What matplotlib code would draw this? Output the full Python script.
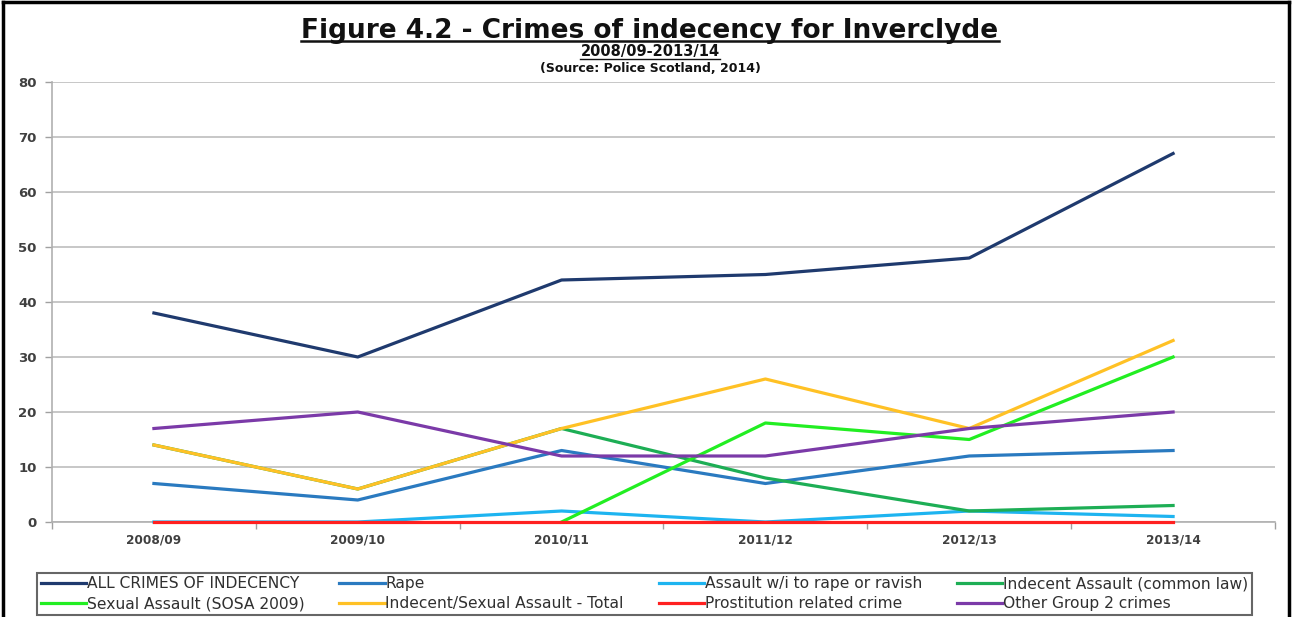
import matplotlib
matplotlib.use('Agg')
import matplotlib.pyplot as plt
from matplotlib.lines import Line2D

years = ['2008/09', '2009/10', '2010/11', '2011/12', '2012/13', '2013/14']

all_crimes = [38, 30, 44, 45, 48, 67]
rape = [7, 4, 13, 7, 12, 13]
assault_rape = [0, 0, 2, 0, 2, 1]
indecent_common = [14, 6, 17, 8, 2, 3]
sexual_sosa = [None, None, 0, 18, 15, 30]
indecent_total = [14, 6, 17, 26, 17, 33]
prostitution = [0, 0, 0, 0, 0, 0]
other_group2 = [17, 20, 12, 12, 17, 20]

series = [
    ('ALL CRIMES OF INDECENCY', all_crimes, '#1F3A6E'),
    ('Rape', rape, '#2A7AC0'),
    ('Assault w/i to rape or ravish', assault_rape, '#1EB4F0'),
    ('Indecent Assault (common law)', indecent_common, '#1DAE55'),
    ('Sexual Assault (SOSA 2009)', sexual_sosa, '#22EE22'),
    ('Indecent/Sexual Assault - Total', indecent_total, '#FFC125'),
    ('Prostitution related crime', prostitution, '#FF2020'),
    ('Other Group 2 crimes', other_group2, '#7B3AA8'),
]

plt.rcParams['font.family'] = ['Liberation Sans', 'DejaVu Sans']

W, H = 1293, 617
fig = plt.figure(figsize=(W / 100, H / 100), dpi=100)
ax = fig.add_axes([52 / W, 1 - 522 / H, (1275 - 52) / W, (522 - 82) / H])

x = list(range(len(years)))
handles = []
for name, vals, col in series:
    xs = [i for i, v in zip(x, vals) if v is not None]
    ys = [v for v in vals if v is not None]
    h, = ax.plot(xs, ys, color=col, lw=2.3, label=name, clip_on=False, zorder=3)
    handles.append(h)

ax.set_xlim(-0.5, len(years) - 0.5)
ax.set_ylim(0, 80)
ax.set_yticks(range(0, 81, 10))
ax.set_xticks(x)
ax.set_xticklabels(years)
ax.set_xticks([i - 0.5 for i in range(len(years) + 1)], minor=True)
ax.tick_params(axis='x', which='major', length=0, pad=8)
ax.tick_params(axis='x', which='minor', length=5, color='#A0A0A0', width=1)
ax.tick_params(axis='y', length=5, color='#A0A0A0', width=1, pad=6)
for lab in ax.get_xticklabels() + ax.get_yticklabels():
    lab.set_fontsize(9.5)
    lab.set_fontweight('bold')
    lab.set_color('#404040')
    lab.set_family(['DejaVu Sans'])
for lab in ax.get_xticklabels():
    lab.set_fontsize(8.7)

ax.yaxis.grid(True, color='#BDBDBD', lw=1.2)
ax.set_axisbelow(True)
for side in ['top', 'right']:
    ax.spines[side].set_visible(False)
for side in ['left', 'bottom']:
    ax.spines[side].set_color('#B0B0B0')
    ax.spines[side].set_linewidth(1.2)

# legend in Excel row order
order = [0, 4, 1, 5, 2, 6, 3, 7]
leg = fig.legend([handles[i] for i in order], [series[i][0] for i in order],
                 loc='lower left', bbox_to_anchor=(37 / W, 2 / H, 1215 / W, 46 / H),
                 mode='expand', ncol=4, prop={'family': 'DejaVu Sans', 'size': 11.2},
                 frameon=True, fancybox=False,
                 edgecolor='#404040', handlelength=2.9, handletextpad=0.05,
                 labelspacing=0.3, borderpad=0.25, borderaxespad=0)
leg.get_frame().set_linewidth(1.5)
for t in leg.get_texts():
    t.set_color('#303030')

# titles, underlined like the original
title_items = [
    ('Figure 4.2 - Crimes of indecency for Inverclyde', 38, 19, True, 1.8),
    ('2008/09-2013/14', 56, 10.5, True, 1.0),
    ('(Source: Police Scotland, 2014)', 72, 9, False, 0),
]
fig.canvas.draw()
renderer = fig.canvas.get_renderer()
for txt, base, fs, under, ulw in title_items:
    t = fig.text(650 / W, 1 - base / H, txt, ha='center', va='baseline', fontsize=fs,
                 fontweight='bold', color='#111111', family=['DejaVu Sans'])
    if under:
        bb = t.get_window_extent(renderer).transformed(fig.transFigure.inverted())
        yl = 1 - (base + 3) / H
        fig.add_artist(Line2D([bb.x0, bb.x1], [yl, yl], color='#111111', lw=ulw,
                              transform=fig.transFigure))

# outer black frame
fig.add_artist(Line2D([3 / W, 3 / W], [0, 1 - 2 / H], color='black', lw=2.5,
                      transform=fig.transFigure))
fig.add_artist(Line2D([1289 / W, 1289 / W], [0, 1 - 2 / H], color='black', lw=2.5,
                      transform=fig.transFigure))
fig.add_artist(Line2D([3 / W, 1289 / W], [1 - 2 / H, 1 - 2 / H], color='black', lw=2.5,
                      transform=fig.transFigure))

fig.savefig('out.png', dpi=100)
